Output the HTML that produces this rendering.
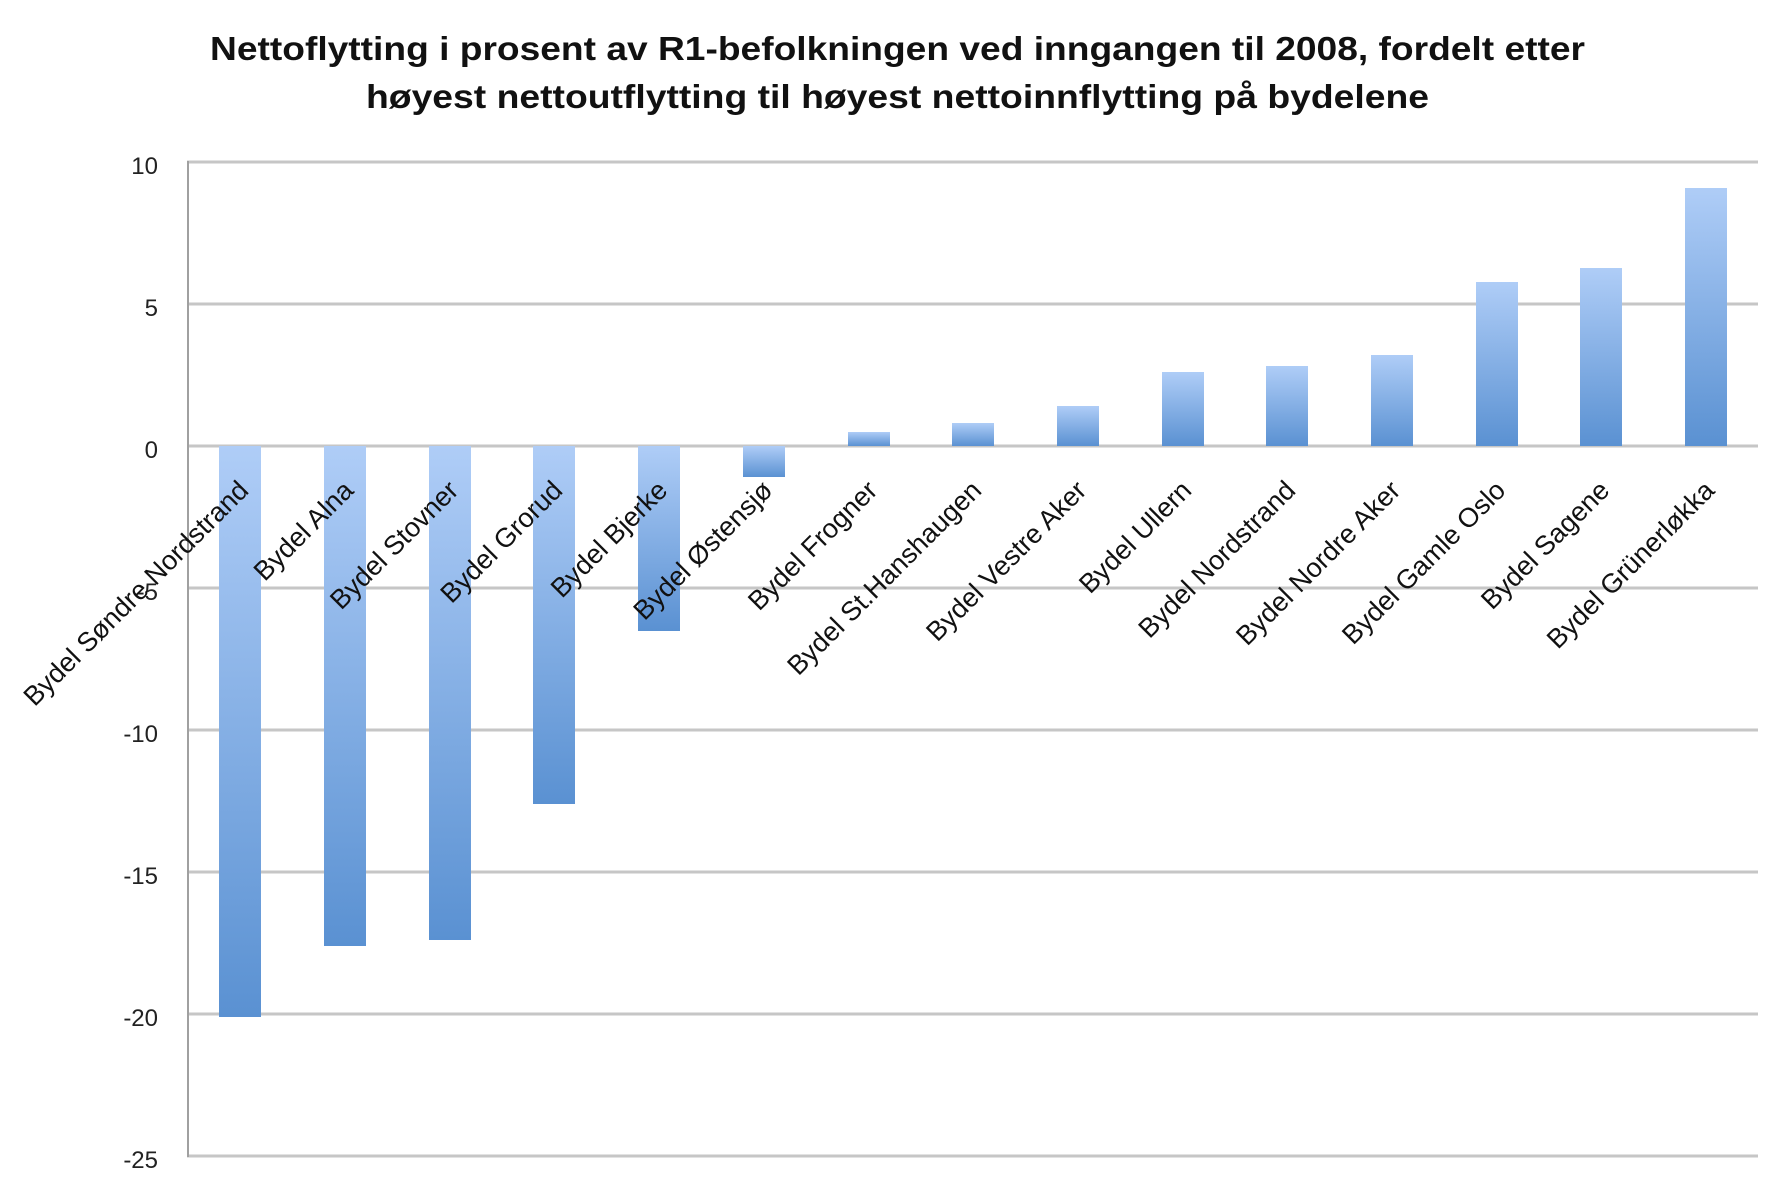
<!DOCTYPE html>
<html><head><meta charset="utf-8"><style>
html,body{margin:0;padding:0;background:#fff;}
svg{display:block;}
</style></head><body>
<svg width="1786" height="1188" viewBox="0 0 1786 1188" xmlns="http://www.w3.org/2000/svg" font-family="'Liberation Sans', sans-serif">
<defs>
<linearGradient id="gp" x1="0" y1="0" x2="0" y2="1"><stop offset="0" stop-color="#afcdf7"/><stop offset="1" stop-color="#5a91d2"/></linearGradient>
</defs>
<text x="210" y="60" font-size="33" font-weight="bold" fill="#111" textLength="1375" lengthAdjust="spacingAndGlyphs">Nettoflytting i prosent av R1-befolkningen ved inngangen til 2008, fordelt etter</text>
<text x="366" y="108" font-size="33" font-weight="bold" fill="#111" textLength="1063" lengthAdjust="spacingAndGlyphs">høyest nettoutflytting til høyest nettoinnflytting på bydelene</text>
<g stroke="#c6c6c6" stroke-width="3">
<line x1="187" y1="162" x2="1758" y2="162"/>
<line x1="187" y1="304" x2="1758" y2="304"/>
<line x1="187" y1="446" x2="1758" y2="446"/>
<line x1="187" y1="588" x2="1758" y2="588"/>
<line x1="187" y1="730" x2="1758" y2="730"/>
<line x1="187" y1="872" x2="1758" y2="872"/>
<line x1="187" y1="1014" x2="1758" y2="1014"/>
<line x1="187" y1="1156" x2="1758" y2="1156"/>
</g>
<line x1="188" y1="161" x2="188" y2="1157" stroke="#a0a0a0" stroke-width="2"/>
<g font-size="24" fill="#222" text-anchor="end">
<text x="158" y="174">10</text>
<text x="158" y="316">5</text>
<text x="158" y="458">0</text>
<text x="158" y="600">-5</text>
<text x="158" y="742">-10</text>
<text x="158" y="884">-15</text>
<text x="158" y="1026">-20</text>
<text x="158" y="1168">-25</text>
</g>
<g fill="url(#gp)">
<rect x="219" y="446" width="42" height="571"/>
<rect x="324" y="446" width="42" height="500"/>
<rect x="429" y="446" width="42" height="494"/>
<rect x="533" y="446" width="42" height="358"/>
<rect x="638" y="446" width="42" height="185"/>
<rect x="743" y="446" width="42" height="31"/>
<rect x="848" y="432" width="42" height="14"/>
<rect x="952" y="423" width="42" height="23"/>
<rect x="1057" y="406" width="42" height="40"/>
<rect x="1162" y="372" width="42" height="74"/>
<rect x="1266" y="366" width="42" height="80"/>
<rect x="1371" y="355" width="42" height="91"/>
<rect x="1476" y="282" width="42" height="164"/>
<rect x="1580" y="268" width="42" height="178"/>
<rect x="1685" y="188" width="42" height="258"/>
</g>
<g font-size="27" fill="#111" text-anchor="end">
<text transform="translate(250,492) rotate(-45)">Bydel Søndre Nordstrand</text>
<text transform="translate(355,492) rotate(-45)">Bydel Alna</text>
<text transform="translate(460,492) rotate(-45)">Bydel Stovner</text>
<text transform="translate(564,492) rotate(-45)">Bydel Grorud</text>
<text transform="translate(669,492) rotate(-45)">Bydel Bjerke</text>
<text transform="translate(774,492) rotate(-45)">Bydel Østensjø</text>
<text transform="translate(879,492) rotate(-45)">Bydel Frogner</text>
<text transform="translate(983,492) rotate(-45)">Bydel St.Hanshaugen</text>
<text transform="translate(1088,492) rotate(-45)">Bydel Vestre Aker</text>
<text transform="translate(1193,492) rotate(-45)">Bydel Ullern</text>
<text transform="translate(1297,492) rotate(-45)">Bydel Nordstrand</text>
<text transform="translate(1402,492) rotate(-45)">Bydel Nordre Aker</text>
<text transform="translate(1507,492) rotate(-45)">Bydel Gamle Oslo</text>
<text transform="translate(1611,492) rotate(-45)">Bydel Sagene</text>
<text transform="translate(1716,492) rotate(-45)">Bydel Grünerløkka</text>
</g>
</svg>
</body></html>
